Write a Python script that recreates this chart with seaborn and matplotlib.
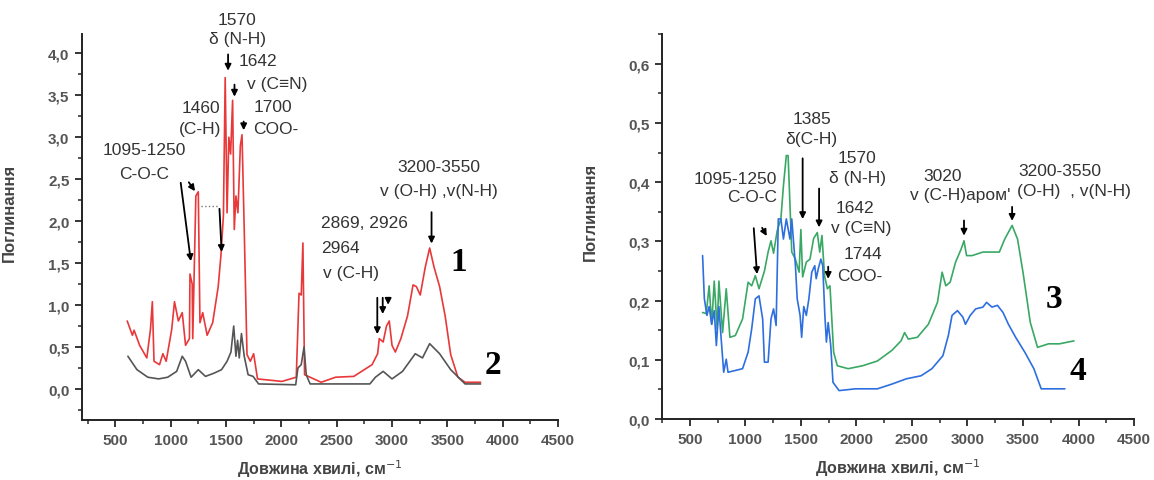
import numpy as np
import pandas as pd
import matplotlib
matplotlib.use('Agg')
import matplotlib.pyplot as plt
import seaborn as sns
from matplotlib.ticker import MultipleLocator, FuncFormatter

# spectrum 1 (red) and 2 (gray), left panel
red_x = [608, 655, 670, 720, 785, 818, 835, 850, 900, 930, 960, 1010, 1035, 1070, 1105,
         1135, 1170, 1175, 1195, 1200, 1228, 1250, 1265, 1290, 1330, 1380, 1430, 1455, 1477, 1493,
         1510, 1526, 1542, 1560, 1575, 1590, 1608, 1630, 1645, 1665, 1690, 1720, 1750, 1785, 2005,
         2135, 2160, 2180, 2195, 2210, 2260, 2360, 2490, 2655, 2820, 2870, 2885, 2920, 2950, 2975,
         3000, 3030, 3080, 3140, 3190, 3220, 3255, 3300, 3340, 3380, 3430, 3480, 3530, 3595, 3660, 3800]
red_y = [0.81, 0.64, 0.70, 0.52, 0.37, 0.71, 1.04, 0.33, 0.29, 0.42, 0.33, 0.71, 1.04, 0.81, 0.91,
         0.52, 0.60, 1.37, 1.25, 0.60, 2.30, 2.35, 0.79, 0.91, 0.64, 0.79, 1.22, 1.60, 2.07, 3.71,
         2.10, 3.00, 2.80, 3.44, 1.90, 2.30, 2.10, 2.90, 3.03, 1.90, 0.41, 0.33, 0.42, 0.12, 0.09,
         0.14, 1.14, 1.12, 1.74, 0.17, 0.14, 0.08, 0.14, 0.15, 0.29, 0.42, 0.60, 0.56, 0.75, 0.81,
         0.52, 0.44, 0.60, 0.87, 1.24, 1.22, 1.12, 1.45, 1.68, 1.45, 1.22, 0.87, 0.41, 0.14, 0.08, 0.08]

gray_x = [614, 696, 794, 892, 974, 1055, 1105, 1135, 1185, 1250, 1315, 1395, 1460, 1510, 1545,
          1570, 1590, 1605, 1620, 1640, 1665, 1700, 1745, 1795, 2130, 2150, 2180, 2205, 2225, 2260,
          2800, 2850, 2920, 3000, 3095, 3210, 3275, 3340, 3430, 3530, 3660, 3800]
gray_y = [0.39, 0.23, 0.14, 0.12, 0.14, 0.21, 0.39, 0.33, 0.14, 0.23, 0.15, 0.19, 0.23, 0.33, 0.44,
          0.75, 0.39, 0.58, 0.37, 0.66, 0.39, 0.17, 0.15, 0.06, 0.05, 0.25, 0.29, 0.50, 0.17, 0.06,
          0.06, 0.14, 0.21, 0.12, 0.21, 0.42, 0.37, 0.54, 0.42, 0.23, 0.06, 0.06]

# spectrum 3 (green) and 4 (blue), right panel
green_x = [615, 648, 674, 697, 720, 746, 762, 795, 828, 861, 910, 975, 1025, 1057, 1090,
           1123, 1172, 1205, 1231, 1254, 1287, 1320, 1343, 1369, 1385, 1418, 1451, 1484, 1500, 1516,
           1549, 1582, 1615, 1648, 1670, 1690, 1713, 1739, 1762, 1795, 1828, 1926, 2057, 2189, 2320,
           2402, 2434, 2467, 2549, 2648, 2730, 2772, 2805, 2844, 2893, 2943, 2969, 2992, 3041, 3139,
           3287, 3336, 3402, 3451, 3500, 3566, 3631, 3730, 3828, 3959]
green_y = [0.180, 0.178, 0.225, 0.160, 0.233, 0.152, 0.233, 0.146, 0.220, 0.138, 0.141, 0.169, 0.231, 0.225, 0.242,
           0.220, 0.250, 0.282, 0.301, 0.280, 0.318, 0.338, 0.394, 0.445, 0.445, 0.282, 0.270, 0.248, 0.320, 0.240,
           0.265, 0.270, 0.305, 0.315, 0.282, 0.310, 0.242, 0.220, 0.225, 0.113, 0.090, 0.085, 0.090, 0.098, 0.116,
           0.132, 0.146, 0.135, 0.138, 0.160, 0.197, 0.248, 0.225, 0.231, 0.265, 0.287, 0.301, 0.276, 0.276, 0.282,
           0.282, 0.304, 0.327, 0.304, 0.248, 0.163, 0.121, 0.127, 0.127, 0.132]

blue_x = [615, 631, 654, 674, 697, 720, 739, 762, 779, 805, 828, 844, 910, 975, 1025,
          1057, 1090, 1123, 1156, 1172, 1205, 1231, 1254, 1277, 1297, 1320, 1343, 1369, 1402, 1418,
          1451, 1467, 1493, 1507, 1526, 1549, 1572, 1598, 1625, 1638, 1657, 1680, 1697, 1716, 1730,
          1746, 1769, 1789, 1844, 1992, 2189, 2320, 2451, 2582, 2680, 2779, 2828, 2861, 2910, 2959,
          2982, 3025, 3074, 3139, 3172, 3221, 3270, 3320, 3369, 3434, 3516, 3598, 3664, 3877]
blue_y = [0.276, 0.203, 0.175, 0.190, 0.160, 0.183, 0.124, 0.190, 0.144, 0.079, 0.101, 0.079, 0.082, 0.085, 0.113,
          0.152, 0.203, 0.208, 0.169, 0.096, 0.096, 0.169, 0.186, 0.158, 0.338, 0.338, 0.304, 0.338, 0.304, 0.338,
          0.259, 0.203, 0.175, 0.138, 0.190, 0.175, 0.203, 0.248, 0.259, 0.237, 0.254, 0.270, 0.259, 0.175, 0.130,
          0.163, 0.124, 0.062, 0.048, 0.051, 0.051, 0.059, 0.068, 0.073, 0.085, 0.107, 0.141, 0.175, 0.183, 0.172,
          0.160, 0.175, 0.186, 0.189, 0.197, 0.189, 0.192, 0.180, 0.160, 0.138, 0.113, 0.085, 0.051, 0.051]

sns.set_style('ticks')
plt.rcParams['font.family'] = ['Liberation Sans', 'DejaVu Sans']

fig = plt.figure(figsize=(11.54, 4.81), dpi=100)
ax1 = fig.add_axes([0.0711, 0.1247, 0.4125, 0.8025])
ax2 = fig.add_axes([0.5737, 0.1268, 0.409, 0.80])

sns.lineplot(x=red_x, y=red_y, ax=ax1, color='#e8383a', lw=1.2, sort=False, estimator=None)
sns.lineplot(x=gray_x, y=gray_y, ax=ax1, color='#555555', lw=1.2, sort=False, estimator=None)
sns.lineplot(x=green_x, y=green_y, ax=ax2, color='#3aa865', lw=1.2, sort=False, estimator=None)
sns.lineplot(x=blue_x, y=blue_y, ax=ax2, color='#2e6fe0', lw=1.2, sort=False, estimator=None)

comma = FuncFormatter(lambda v, p: f'{v:.1f}'.replace('.', ','))
for ax, xlim, ylim, ymaj in [(ax1, (200, 4500), (-0.37, 4.23), 0.5),
                             (ax2, (250, 4500), (0, 0.65), 0.1)]:
    ax.set_xlim(*xlim)
    ax.set_ylim(*ylim)
    ax.xaxis.set_major_locator(MultipleLocator(500))
    ax.xaxis.set_minor_locator(MultipleLocator(250))
    ax.yaxis.set_major_locator(MultipleLocator(ymaj))
    ax.yaxis.set_minor_locator(MultipleLocator(ymaj / 2))
    ax.yaxis.set_major_formatter(comma)
    ax.tick_params(which='major', direction='out', length=5, width=1.3, labelsize=11,
                   labelcolor='#555555', pad=4)
    ax.tick_params(which='minor', direction='out', length=3, width=1.1)
    sns.despine(ax=ax)
    for s in ['left', 'bottom']:
        ax.spines[s].set_linewidth(1.4)
        ax.spines[s].set_color('#222222')
    ax.set_xlabel('Довжина хвилі, см$^{-1}$', fontsize=11.5, fontweight='bold', color='#444444')
    ax.set_ylabel('Поглинання', fontsize=12, fontweight='bold', color='#444444')
    ax.xaxis.set_label_coords(0.5, -0.097)
    ax.yaxis.set_label_coords(-0.137, 0.54)

ax1.set_yticks(np.arange(0, 4.01, 0.5))
ax2.set_yticks(np.arange(0, 0.61, 0.1))
for ax in (ax1, ax2):
    for lab in ax.get_xticklabels() + ax.get_yticklabels():
        lab.set_fontweight('bold')

tk = dict(fontsize=12.5, color='#333333', clip_on=False)
big = dict(fontsize=24, fontweight='bold', family='Liberation Serif', color='black',
           ha='center', va='center')
arr = dict(arrowstyle='-|>', color='black', lw=1.3, mutation_scale=9)

def arrow(ax, tail, tip):
    ax.annotate('', xy=tip, xytext=tail, arrowprops=arr, annotation_clip=False)

# left panel labels
ax1.text(1600, 4.40, '1570', ha='center', va='center', **tk)
ax1.text(1600, 4.18, 'δ (N-H)', ha='center', va='center', **tk)
ax1.text(1790, 3.92, '1642', ha='center', va='center', **tk)
ax1.text(1960, 3.64, 'v (C≡N)', ha='center', va='center', **tk)
ax1.text(1270, 3.36, '1460', ha='center', va='center', **tk)
ax1.text(1270, 3.10, '(C-H)', ha='center', va='center', **tk)
ax1.text(1920, 3.37, '1700', ha='center', va='center', **tk)
ax1.text(1950, 3.10, 'COO-', ha='center', va='center', **tk)
ax1.text(760, 2.85, '1095-1250', ha='center', va='center', **tk)
ax1.text(760, 2.57, 'C-O-C', ha='center', va='center', **tk)
ax1.text(3420, 2.65, '3200-3550', ha='center', va='center', **tk)
ax1.text(3420, 2.37, 'v (O-H) ,v(N-H)', ha='center', va='center', **tk)
ax1.text(2360, 1.98, '2869, 2926', ha='left', va='center', **tk)
ax1.text(2360, 1.68, '2964', ha='left', va='center', **tk)
ax1.text(2380, 1.39, 'v (C-H)', ha='left', va='center', **tk)
ax1.text(3600, 1.52, '1', **big)
ax1.text(3910, 0.29, '2', **big)

arrow(ax1, (1519, 4.02), (1519, 3.76))
arrow(ax1, (1577, 3.66), (1577, 3.45))
arrow(ax1, (1660, 3.22), (1660, 3.05))
arrow(ax1, (1440, 2.18), (1462, 1.60))
ax1.plot([1270, 1440], [2.18, 2.18], ls=':', color='#777777', lw=1)
arrow(ax1, (1088, 2.49), (1186, 1.49))
arrow(ax1, (1150, 2.49), (1235, 2.33))
arrow(ax1, (3357, 2.14), (3357, 1.70))
arrow(ax1, (2867, 1.12), (2867, 0.62))
arrow(ax1, (2916, 1.12), (2916, 0.86))
arrow(ax1, (2965, 1.12), (2965, 0.97))

# right panel labels
ax2.text(1598, 0.507, '1385', ha='center', va='center', **tk)
ax2.text(1598, 0.473, 'δ(C-H)', ha='center', va='center', **tk)
ax2.text(2008, 0.442, '1570', ha='center', va='center', **tk)
ax2.text(2008, 0.408, 'δ (N-H)', ha='center', va='center', **tk)
ax2.text(1990, 0.358, '1642', ha='center', va='center', **tk)
ax2.text(2040, 0.324, 'v (C≡N)', ha='center', va='center', **tk)
ax2.text(2060, 0.279, '1744', ha='center', va='center', **tk)
ax2.text(2030, 0.242, 'COO-', ha='center', va='center', **tk)
ax2.text(1287, 0.407, '1095-1250', ha='right', va='center', **tk)
ax2.text(1287, 0.376, 'C-O-C', ha='right', va='center', **tk)
ax2.text(2779, 0.411, '3020', ha='center', va='center', **tk)
ax2.text(2936, 0.380, "v (C-H)аром'", ha='center', va='center', **tk)
ax2.text(3828, 0.420, '3200-3550', ha='center', va='center', **tk)
ax2.text(3959, 0.386, '(O-H)  , v(N-H)', ha='center', va='center', **tk)
ax2.text(3779, 0.203, '3', **big)
ax2.text(3992, 0.082, '4', **big)

arrow(ax2, (1516, 0.445), (1516, 0.333))
arrow(ax2, (1664, 0.394), (1664, 0.319))
arrow(ax2, (1746, 0.262), (1746, 0.232))
arrow(ax2, (1074, 0.327), (1107, 0.240))
arrow(ax2, (1139, 0.327), (1205, 0.305))
arrow(ax2, (2969, 0.340), (2969, 0.305))
arrow(ax2, (3402, 0.363), (3402, 0.330))

fig.savefig('out.png', dpi=100)
